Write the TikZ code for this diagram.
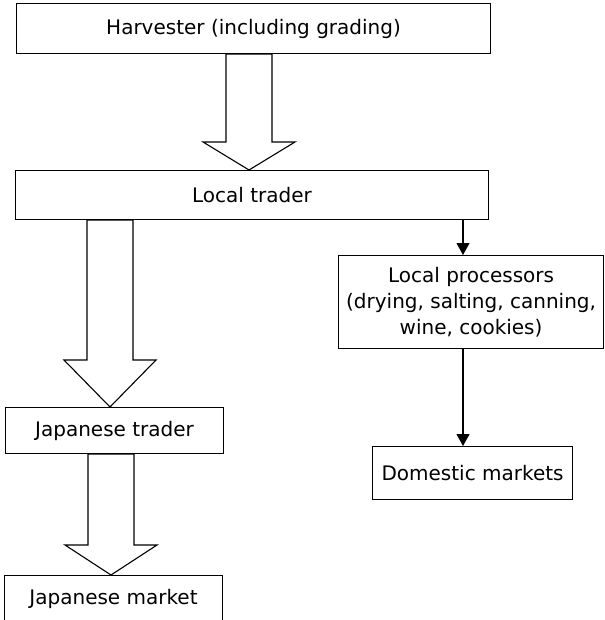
\documentclass[tikz,border=0pt]{standalone}
\usepackage{fontspec}
\setmainfont{DejaVu Sans}
\usetikzlibrary{calc,arrows.meta}

\begin{document}
\begin{tikzpicture}[x=1pt,y=-1pt,
	box/.style={draw, line width=1.1pt, inner sep=0pt, anchor=north west, font=\fontsize{20}{26}\selectfont},
	hollow/.style={draw, line width=1.1pt, fill=white, line join=miter},
	thin arrow/.style={line width=1.1pt, -{Triangle[length=12pt,width=13pt]}}]
	\useasboundingbox (0,0) rectangle (604,620);
	% boxes, placed by their top left corner
	\node [box, minimum width=474, minimum height=50] (harv) at (16,3) {Harvester (including grading)};
	\node [box, minimum width=473, minimum height=49] (trader) at (15,170) {Local trader};
	\node [box, minimum width=265, minimum height=93, align=center] (proc) at (338,255) {Local processors\\(drying, salting, canning,\\wine, cookies)};
	\node [box, minimum width=200, minimum height=53] (dom) at (372,446) {Domestic markets};
	\node [box, minimum width=218, minimum height=46] (jtrader) at (5,407) {Japanese trader};
	\node [box, minimum width=218, minimum height=46] (jmarket) at (4,575) {Japanese market};
	% axes of the arrows
	\coordinate (axA) at (249,0);
	\coordinate (axB) at (110,0);
	\coordinate (axC) at (111,0);
	\coordinate (axD) at (463,0);
	% block arrows down the left side
	\foreach \src/\dst/\ax/\hl in {harv/trader/axA/28, trader/jtrader/axB/47, jtrader/jmarket/axC/30}
	{
		\draw [hollow] ($(\src.south -| \ax)+(-23,0)$) -- ($(\dst.north -| \ax)+(-23,-\hl)$)
			-- ($(\dst.north -| \ax)+(-46,-\hl)$) -- (\dst.north -| \ax)
			-- ($(\dst.north -| \ax)+(46,-\hl)$) -- ($(\dst.north -| \ax)+(23,-\hl)$)
			-- ($(\src.south -| \ax)+(23,0)$) -- cycle;
	}
	% plain arrows on the right
	\draw [thin arrow] (trader.south -| axD) -- (proc.north -| axD);
	\draw [thin arrow] (proc.south -| axD) -- (dom.north -| axD);
\end{tikzpicture}
\end{document}
